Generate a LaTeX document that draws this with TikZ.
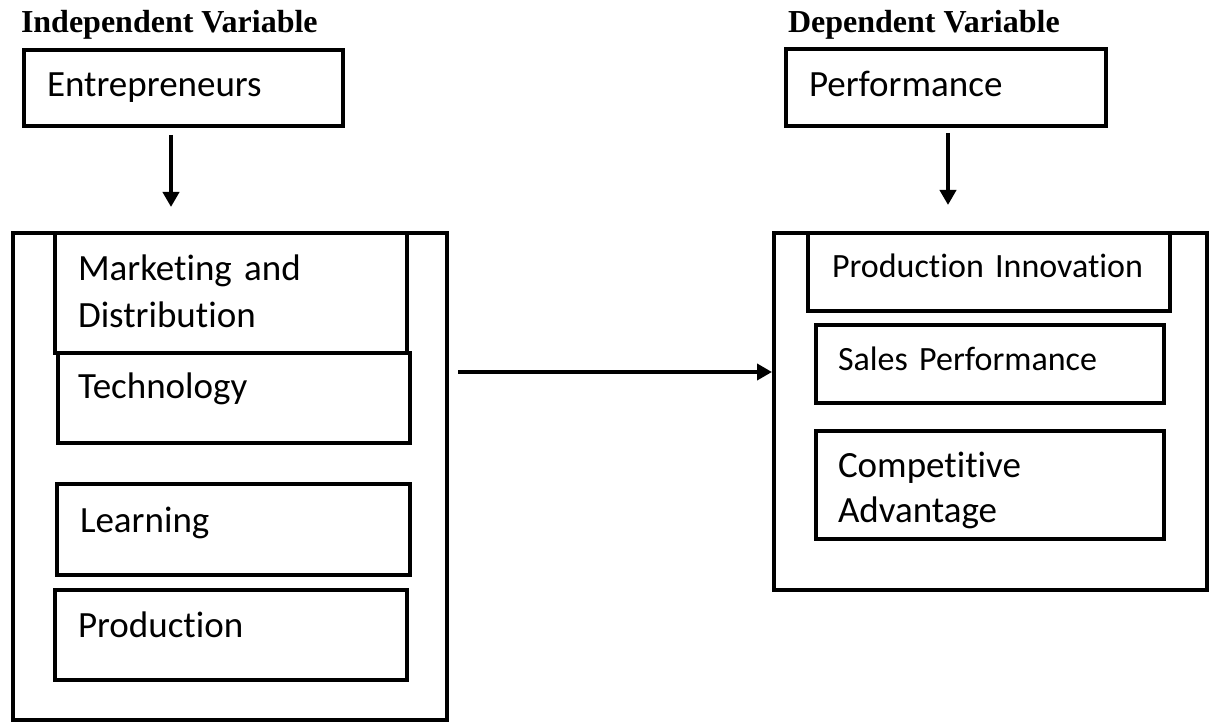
\documentclass[tikz,border=0pt]{standalone}
\usepackage{fontspec}
\setmainfont{Carlito}[Ligatures=NoCommon]
\newfontfamily\headfont{Liberation Serif}
\usepackage{tikz}
\usetikzlibrary{positioning,arrows.meta}

\begin{document}
\begin{tikzpicture}[x=1pt, y=-1pt,
  every node/.style = {outer sep=0pt},
  groupbox/.style = {shape=rectangle, draw, line width=4pt,
    anchor=north west, inner sep=0pt},
  varbox/.style = {shape=rectangle, draw, line width=4pt,
    anchor=north west, align=left, inner ysep=0pt,
    font=\fontsize{37}{47}\selectfont},
  smallbox/.style = {varbox, font=\fontsize{34}{46}\selectfont},
  heading/.style = {anchor=base west, inner sep=0pt,
    font=\headfont\bfseries\fontsize{32}{36}\selectfont},
  link/.style = {draw, line width=4.5pt, -{Triangle[length=15pt,width=16pt]}}
  ]
  \useasboundingbox (0,0) rectangle (1209,722);

  \node[heading] (ivhead) at (21,33) {Independent Variable};
  \node[heading] (dvhead) at (788,33) {Dependent Variable};

  \node[varbox, inner xsep=23pt, text width=273pt, text height=47pt, text depth=29pt]
    (entre) at (24,50) {Entrepreneurs};
  \node[varbox, inner xsep=23pt, text width=274pt, text height=48pt, text depth=29pt]
    (perf) at (786,49) {Performance};

  \node[groupbox, minimum width=434pt, minimum height=487pt] (indep) at (13,233) {};
  \node[groupbox, minimum width=433pt, minimum height=357pt] (dep) at (774,233) {};

  \node[varbox, inner xsep=23pt, text width=306pt, text height=47pt, text depth=73pt]
    (mkt) at (55,233) {Marketing and\\Distribution};
  \node[varbox, inner xsep=20pt, text width=312pt, text height=45pt, text depth=45pt]
    (tech) at (58,353) {Technology};
  \node[varbox, inner xsep=23pt, text width=307pt, text height=48pt, text depth=43pt]
    (learn) at (57,484) {Learning};
  \node[varbox, inner xsep=23pt, text width=306pt, text height=47pt, text depth=43pt]
    (prod) at (55,590) {Production};

  \node[smallbox, inner xsep=24pt, text width=314pt, text height=44pt, text depth=34pt]
    (pinno) at (808,233) {Production~Innovation};
  \node[smallbox, inner xsep=22pt, text width=304pt, text height=45pt, text depth=33pt]
    (sales) at (816,325) {Sales Performance};
  \node[varbox, inner xsep=22pt, text width=304pt, text height=46pt, text depth=62pt,
    font=\fontsize{37}{45}\selectfont]
    (compet) at (816,431) {Competitive\\Advantage};

  \draw[link, shorten <=9pt, shorten >=26pt]
    ([xshift=-12.5pt]entre.south) -- ([xshift=-12.5pt]entre.south |- indep.north);
  \draw[link, shorten <=7pt, shorten >=28pt]
    ([xshift=2pt]perf.south) -- ([xshift=2pt]perf.south |- dep.north);
  \draw[link, shorten <=11pt, shorten >=2pt]
    ([yshift=-139pt]indep.north east) -- ([yshift=-139pt]indep.north east -| dep.west);
\end{tikzpicture}
\end{document}
